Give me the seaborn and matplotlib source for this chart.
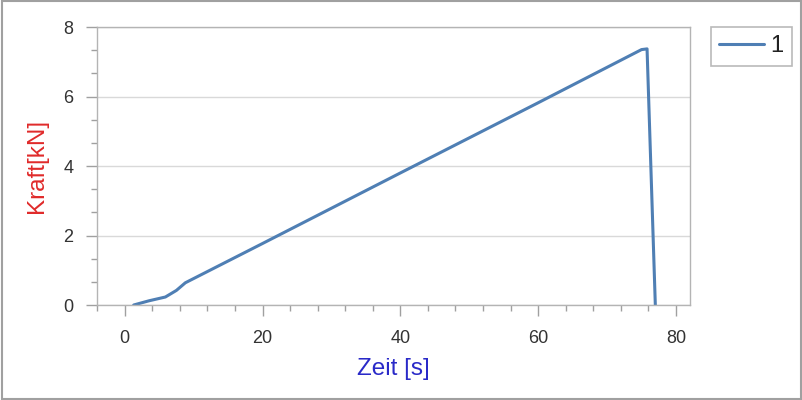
import pandas as pd
import matplotlib
matplotlib.use("Agg")
import matplotlib.pyplot as plt
import seaborn as sns
from matplotlib.ticker import MultipleLocator, AutoMinorLocator

# --- DATA ---
zeit = [1.3, 3.5, 5.9, 7.5, 8.8, 20.0, 40.0, 60.0, 75.0, 75.8, 77.0]
kraft = [0.0, 0.12, 0.23, 0.42, 0.64, 1.77, 3.80, 5.82, 7.35, 7.37, 0.0]
serie = ["1"] * len(zeit)

df = pd.DataFrame({"Zeit": zeit, "Kraft": kraft, "Serie": serie})

sns.set_theme(style="white")
plt.rcParams['font.family'] = ['Liberation Sans', 'DejaVu Sans']

fig = plt.figure(figsize=(8.03, 4.0), dpi=100)
ax = fig.add_axes([0.121, 0.2375, 0.738, 0.695])

sns.lineplot(data=df, x="Zeit", y="Kraft", hue="Serie", palette=["#4f7fb4"],
             linewidth=2.2, ax=ax, sort=False)

ax.set_xlim(-4, 82)
ax.set_ylim(0, 8)
ax.xaxis.set_major_locator(MultipleLocator(20))
ax.xaxis.set_minor_locator(MultipleLocator(4))
ax.yaxis.set_major_locator(MultipleLocator(2))
ax.yaxis.set_minor_locator(AutoMinorLocator(3))
ax.grid(axis="y", which="major", color="#d9d9d9", linewidth=1)
ax.set_axisbelow(True)

for s in ax.spines.values():
    s.set_color("#b4b4b4")
    s.set_linewidth(1)
ax.tick_params(axis="both", which="major", length=8, width=1, color="#a0a0a0",
               labelsize=13, labelcolor="#333333", direction="out",
               bottom=True, left=True)
ax.tick_params(axis="x", which="major", pad=10)
ax.tick_params(axis="y", which="major", pad=9)
ax.tick_params(axis="both", which="minor", length=4, width=1, color="#a0a0a0",
               direction="out", bottom=True, left=True)

ax.set_xlabel("Zeit [s]", color="#2a2ac8", fontsize=17.5, labelpad=8)
ax.set_ylabel("Kraft[kN]", color="#e02a2a", fontsize=17.5, labelpad=11)

leg = ax.legend(loc="upper left", bbox_to_anchor=(1.035, 1.0), borderaxespad=0,
                frameon=True, fancybox=False, fontsize=17, handlelength=1.9,
                borderpad=0.35, handletextpad=0.3, title=None)
leg.get_frame().set_edgecolor("#a8a8a8")
leg.get_frame().set_linewidth(1.2)
for t in leg.get_texts():
    t.set_color("#222222")

fig.patches.append(plt.Rectangle((0.002, 0.003), 0.996, 0.994, transform=fig.transFigure,
                                 fill=False, edgecolor="#a0a0a0", linewidth=1.5))

fig.savefig("out.png", dpi=100)
